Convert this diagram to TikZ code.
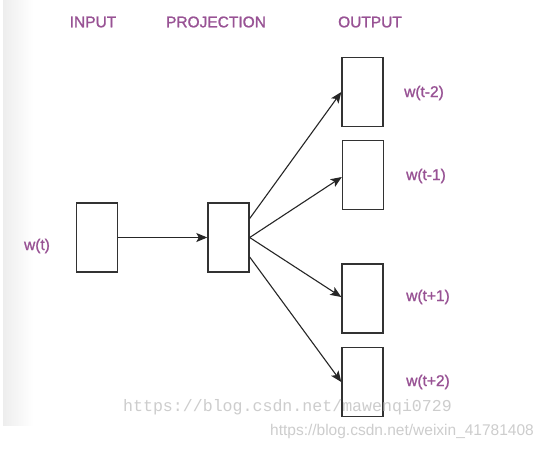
\documentclass[tikz,border=0pt]{standalone}
\usepackage{fontspec}
\setmainfont{Liberation Sans}
\newfontfamily\lblfont[FakeBold=1.2]{Liberation Sans}
\newfontfamily\wmmono{Liberation Mono}
\usetikzlibrary{arrows.meta}
\definecolor{lbl}{RGB}{152,82,148}
\definecolor{boxc}{RGB}{50,50,50}
\definecolor{wm}{RGB}{205,205,205}
\tikzset{
  layer/.style={draw=boxc, line width=1.4pt, fill=white, inner sep=0pt,
    minimum width=41pt, minimum height=69pt},
  title/.style={text=lbl, font=\lblfont\fontsize{15.5}{18}\selectfont, inner sep=0pt},
  wlabel/.style={text=lbl, font=\lblfont\fontsize{15.5}{18}\selectfont, inner sep=0pt},
  conn/.style={draw=black!85, line width=1.1pt, -{Stealth[length=11pt,width=9pt,inset=2.5pt]}},
}
\begin{document}
\begin{tikzpicture}[x=1pt,y=-1pt]
\useasboundingbox (0,0) rectangle (546,450);
\fill[white] (0,0) rectangle (546,450);
\shade[left color=black!7, right color=white] (3,0) rectangle (33,425);
% titles
\node[title] (tin) at (93,22) {INPUT};
\node[title] (tproj) at (216,22) {PROJECTION};
\node[title] (tout) at (370,22) {OUTPUT};
% boxes
\node[layer] (in) at (97,237.5) {};
\node[layer] (proj) at (228.5,237.5) {};
\node[layer] (o1) at (362.5,92) {};
\node[layer] (o2) at (363,175) {};
\node[layer] (o3) at (362.5,298.5) {};
\node[layer] (o4) at (362.5,382) {};
% labels
\node[wlabel] (lw) at (37,246) {w(t)};
\node[wlabel] (l1) at (424,93) {w(t-2)};
\node[wlabel] (l2) at (426,176) {w(t-1)};
\node[wlabel] (l3) at (428,297) {w(t+1)};
\node[wlabel] (l4) at (428,382) {w(t+2)};
% connectors
\draw[conn] (in.east) -- (proj.west);
\draw[conn] ([yshift=19pt]proj.east) -- (o1.west);
\draw[conn] (proj.east) -- ([yshift=-2pt]o2.west);
\draw[conn] (proj.east) -- ([yshift=1.5pt]o3.west);
\draw[conn] ([yshift=-19.5pt]proj.east) -- (o4.west);
% watermarks
\node[text=wm, font=\wmmono\fontsize{16.6}{18}\selectfont, inner sep=0pt] (wm1) at (287.5,407) {https://blog.csdn.net/mawenqi0729};
\node[text=wm, font=\fontsize{15.5}{18}\selectfont, inner sep=0pt] (wm2) at (402,431) {https://blog.csdn.net/weixin\_41781408};
\end{tikzpicture}
\end{document}
